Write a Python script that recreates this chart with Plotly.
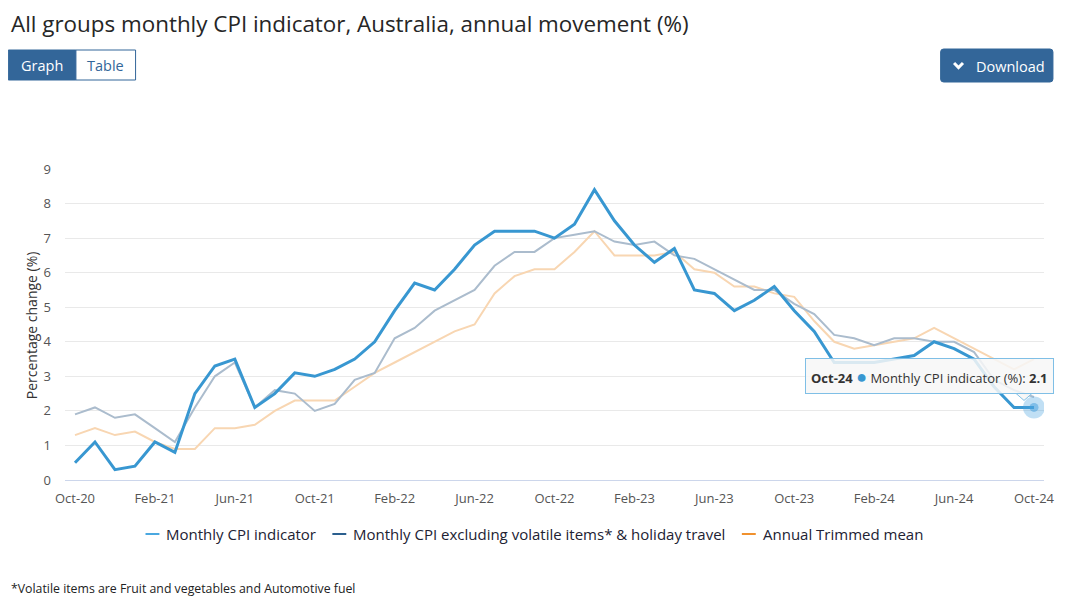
import plotly.graph_objects as go

months = ["Oct-20", "Nov-20", "Dec-20", "Jan-21", "Feb-21", "Mar-21", "Apr-21", "May-21", "Jun-21",
          "Jul-21", "Aug-21", "Sep-21", "Oct-21", "Nov-21", "Dec-21", "Jan-22", "Feb-22", "Mar-22",
          "Apr-22", "May-22", "Jun-22", "Jul-22", "Aug-22", "Sep-22", "Oct-22", "Nov-22", "Dec-22",
          "Jan-23", "Feb-23", "Mar-23", "Apr-23", "May-23", "Jun-23", "Jul-23", "Aug-23", "Sep-23",
          "Oct-23", "Nov-23", "Dec-23", "Jan-24", "Feb-24", "Mar-24", "Apr-24", "May-24", "Jun-24",
          "Jul-24", "Aug-24", "Sep-24", "Oct-24"]

cpi = [0.5, 1.1, 0.3, 0.4, 1.1, 0.8, 2.5, 3.3, 3.5, 2.1, 2.5, 3.1,
       3.0, 3.2, 3.5, 4.0, 4.9, 5.7, 5.5, 6.1, 6.8, 7.2, 7.2, 7.2,
       7.0, 7.4, 8.4, 7.5, 6.8, 6.3, 6.7, 5.5, 5.4, 4.9, 5.2, 5.6,
       4.9, 4.3, 3.4, 3.4, 3.4, 3.5, 3.6, 4.0, 3.8, 3.5, 2.7, 2.1,
       2.1]

cpi_excl = [1.9, 2.1, 1.8, 1.9, 1.5, 1.1, 2.1, 3.0, 3.4, 2.1, 2.6, 2.5,
            2.0, 2.2, 2.9, 3.1, 4.1, 4.4, 4.9, 5.2, 5.5, 6.2, 6.6, 6.6,
            7.0, 7.1, 7.2, 6.9, 6.8, 6.9, 6.5, 6.4, 6.1, 5.8, 5.5, 5.5,
            5.1, 4.8, 4.2, 4.1, 3.9, 4.1, 4.1, 4.0, 4.0, 3.7, 2.9, 2.6,
            2.4]

trimmed = [1.3, 1.5, 1.3, 1.4, 1.1, 0.9, 0.9, 1.5, 1.5, 1.6, 2.0, 2.3,
           2.3, 2.3, 2.7, 3.1, 3.4, 3.7, 4.0, 4.3, 4.5, 5.4, 5.9, 6.1,
           6.1, 6.6, 7.2, 6.5, 6.5, 6.5, 6.6, 6.1, 6.0, 5.6, 5.6, 5.4,
           5.3, 4.6, 4.0, 3.8, 3.9, 4.0, 4.1, 4.4, 4.1, 3.8, 3.5, 3.2,
           3.5]

tick_labels = ["Oct-20", "Feb-21", "Jun-21", "Oct-21", "Feb-22", "Jun-22", "Oct-22",
               "Feb-23", "Jun-23", "Oct-23", "Feb-24", "Jun-24", "Oct-24"]
y_ticks = [0, 1, 2, 3, 4, 5, 6, 7, 8, 9]

series_names = ["Monthly CPI indicator",
                "Monthly CPI excluding volatile items* & holiday travel",
                "Annual Trimmed mean"]

FONT = "Open Sans"
OFF = 8                      # page body margin of the html page
W, H = 1067 - OFF, 602 - OFF
# plot area in page pixels
L, R, T, B = 65, 1050, 169, 480
NAVY = "#336699"


def px(x):
    return (x - L) / (R - L)


def py(y):
    return (B - y) / (B - T)


fig = go.Figure()

fig.add_trace(go.Scatter(x=months, y=trimmed, mode="lines", name=series_names[2],
                         line=dict(color="#f8d6b2", width=2), showlegend=False,
                         hoverinfo="skip"))
fig.add_trace(go.Scatter(x=months, y=cpi_excl, mode="lines", name=series_names[1],
                         line=dict(color="#abbccd", width=2), showlegend=False,
                         hoverinfo="skip"))
fig.add_trace(go.Scatter(x=months, y=cpi, mode="lines", name=series_names[0],
                         line=dict(color="#3897d1", width=3), showlegend=False))

# hovered point halo
fig.add_trace(go.Scatter(x=[months[-1]], y=[cpi[-1]], mode="markers",
                         marker=dict(size=22, color="rgba(74,163,223,0.35)", line=dict(width=0)),
                         showlegend=False, hoverinfo="skip"))
fig.add_trace(go.Scatter(x=[months[-1]], y=[cpi[-1]], mode="markers",
                         marker=dict(size=9, color="rgba(74,163,223,0.55)", line=dict(width=0)),
                         showlegend=False, hoverinfo="skip"))

shapes = []
annotations = []


def text(t, x, y, size, color, xanchor="center", yanchor="middle", **kw):
    annotations.append(dict(text=t, xref="paper", yref="paper", x=px(x), y=py(y),
                            xanchor=xanchor, yanchor=yanchor, showarrow=False,
                            font=dict(family=FONT, size=size, color=color), **kw))


# Title
text("All groups monthly CPI indicator, Australia, annual movement (%)", 10, 7, 22.4, "#262626",
     xanchor="left", yanchor="top", borderpad=0)

# Graph / Table buttons
shapes.append(dict(type="rect", xref="paper", yref="paper", x0=px(8), x1=px(76), y0=py(50),
                   y1=py(80), fillcolor=NAVY, line=dict(color=NAVY, width=1), layer="below"))
shapes.append(dict(type="rect", xref="paper", yref="paper", x0=px(76), x1=px(136), y0=py(50),
                   y1=py(80), fillcolor="white", line=dict(color=NAVY, width=1), layer="below"))
text("Graph", 42, 65, 14.5, "white")
text("Table", 106, 65, 14.5, NAVY)

# Download button
shapes.append(dict(type="path", xref="paper", yref="paper", layer="below",
                   path=f"M {px(949)},{py(49)} L {px(1056)},{py(49)} Q {px(1059)},{py(49)} {px(1059)},{py(52)} "
                        f"L {px(1059)},{py(79)} Q {px(1059)},{py(82)} {px(1056)},{py(82)} "
                        f"L {px(949)},{py(82)} Q {px(946)},{py(82)} {px(946)},{py(79)} "
                        f"L {px(946)},{py(52)} Q {px(946)},{py(49)} {px(949)},{py(49)} Z",
                   fillcolor=NAVY, line=dict(color=NAVY, width=1)))
shapes.append(dict(type="path", xref="paper", yref="paper",
                   path=f"M {px(959.5)},{py(63)} L {px(964)},{py(67.5)} L {px(968.5)},{py(63)}",
                   line=dict(color="white", width=3)))
text("Download", 980, 66, 14.5, "white", xanchor="left")

# Y-axis title
text("Percentage change (%)", 31, 325, 14, "#333333", textangle=-90)

# Custom legend
legend_items = [(146, 165, "#4aa8e0", series_names[0]),
                (334, 353, "#2b5f8e", series_names[1]),
                (746, 765, "#f0912e", series_names[2])]
for sx, tx, col, name in legend_items:
    shapes.append(dict(type="line", xref="paper", yref="paper", x0=px(sx), x1=px(sx + 14),
                       y0=py(534), y1=py(534), line=dict(color=col, width=2)))
    text(name, tx, 534, 15, "#222233", xanchor="left")

# Footnote
text("*Volatile items are Fruit and vegetables and Automotive fuel", 9, 588, 12.3, "#222222",
     xanchor="left")

# Tooltip
annotations.append(dict(
    text="<b>Oct-24</b> <span style='color:#3897d1;font-size:18px'>●</span> "
         "Monthly CPI indicator (%): <b>2.1</b>",
    xref="x", yref="y", x=months[-1], y=cpi[-1], xanchor="right", yanchor="bottom",
    xshift=20, yshift=13, showarrow=False, align="left",
    bgcolor="rgba(247,247,247,0.85)", bordercolor="#7fbfe6", borderwidth=1, borderpad=5,
    font=dict(family=FONT, size=13, color="#333333")))
shapes.append(dict(type="path", xref="x", yref="y", xsizemode="pixel", ysizemode="pixel",
                   xanchor=months[-1], yanchor=cpi[-1],
                   path="M -18,14 L -10,7 L -2,14",
                   fillcolor="rgba(247,247,247,0.95)", line=dict(color="#7fbfe6", width=1)))

fig.update_layout(
    width=W, height=H,
    margin=dict(l=L - OFF, r=W - (R - OFF), t=T - OFF, b=H - (B - OFF), pad=0),
    paper_bgcolor="white", plot_bgcolor="white",
    font=dict(family=FONT, size=13, color="#666666"),
    showlegend=False,
    shapes=shapes, annotations=annotations,
    xaxis=dict(type="category", range=[-0.5, len(months) - 0.5], tickmode="array",
               tickvals=tick_labels, ticktext=tick_labels, showgrid=False, zeroline=False,
               showline=True, linecolor="#ccd6eb", linewidth=1, ticks="", ticklabelstandoff=6,
               tickfont=dict(family=FONT, size=13, color="#555555"), fixedrange=True),
    yaxis=dict(range=[0, 9], tickvals=y_ticks, showgrid=True, gridcolor="#e9e9e9",
               gridwidth=1, zeroline=False, showline=False, ticks="", ticklabelstandoff=13,
               tickfont=dict(family=FONT, size=13, color="#555555"), fixedrange=True),
)

fig.write_html("out.html")
